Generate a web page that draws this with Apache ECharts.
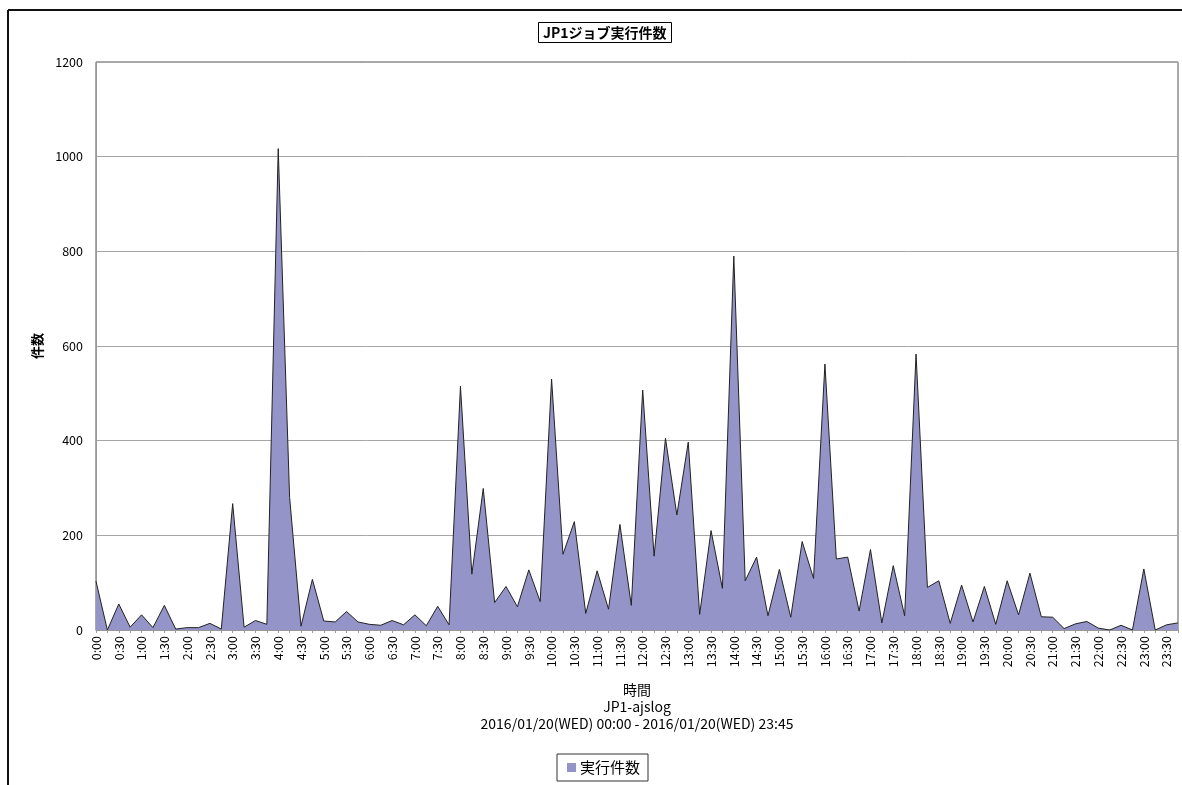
<!DOCTYPE html>
<html>
<head>
<meta charset="utf-8">
<script src="https://cdn.jsdelivr.net/npm/echarts@6/dist/echarts.min.js"></script>
<style>
html,body{margin:0;padding:0;background:#fff;}
#c{width:1182px;height:785px;}
</style>
</head>
<body>
<div id="c"></div>
<script>
// 15-minute time slots 0:00 .. 23:45
const categories = [];
for (let h = 0; h < 24; h++) {
  for (const m of ['00','15','30','45']) categories.push(h + ':' + m);
}
const seriesName = '実行件数';
const values = [
  103, 0, 55, 6, 32, 5, 52, 2, 5, 5, 14, 2, 267, 6, 20, 12,
  1017, 280, 8, 107, 19, 17, 39, 17, 12, 10, 20, 11, 32, 9, 50, 11,
  515, 118, 299, 58, 92, 49, 127, 60, 530, 160, 229, 35, 125, 44, 223, 52,
  507, 156, 405, 243, 397, 33, 210, 88, 790, 104, 154, 30, 128, 27, 187, 109,
  562, 150, 154, 40, 170, 15, 136, 30, 583, 90, 104, 14, 95, 17, 92, 12,
  104, 32, 120, 28, 27, 3, 13, 18, 4, 0, 10, 0, 129, 0, 11, 15
];
const titleText = 'JP1ジョブ実行件数';
const yName = '件数';
const xNameLines = ['時間', 'JP1-ajslog', '2016/01/20(WED) 00:00 - 2016/01/20(WED) 23:45'];

const FONT = '"Noto Sans CJK JP", "Noto Sans", sans-serif';
const chart = echarts.init(document.getElementById('c'), null, {renderer: 'canvas'});
chart.setOption({
  animation: false,
  backgroundColor: '#fff',
  textStyle: {fontFamily: FONT},
  title: {
    text: titleText,
    left: 538,
    top: 22,
    padding: [4, 5, 3, 5],
    borderColor: '#000',
    borderWidth: 1,
    textStyle: {fontSize: 14, fontWeight: 'bold', color: '#000', fontFamily: FONT}
  },
  legend: {
    data: [{name: seriesName, icon: 'rect'}],
    left: 557,
    top: 754,
    itemWidth: 9,
    itemHeight: 9,
    itemGap: 4,
    padding: [6, 8, 6, 10],
    borderColor: '#333',
    borderWidth: 1,
    textStyle: {fontSize: 15, color: '#000', fontFamily: FONT, padding: [0, 0, 0, -1]}
  },
  grid: {
    left: 96, right: 4, top: 62, bottom: 155,
    show: true,
    borderColor: '#555',
    borderWidth: 1,
    containLabel: false
  },
  xAxis: {
    type: 'category',
    data: categories,
    boundaryGap: false,
    axisLine: {lineStyle: {color: '#999'}},
    axisTick: {show: true, interval: 0, length: 3, lineStyle: {color: '#999'}},
    axisLabel: {
      interval: 1,
      rotate: 90,
      fontSize: 12.5,
      color: '#000',
      margin: 6,
      fontFamily: FONT
    },
    splitLine: {show: false}
  },
  yAxis: {
    type: 'value',
    min: 0,
    max: 1200,
    interval: 200,
    name: yName,
    nameLocation: 'middle',
    nameRotate: 90,
    nameGap: 52,
    nameTextStyle: {fontSize: 13, fontWeight: 'bold', color: '#000', fontFamily: FONT},
    axisLine: {show: true, lineStyle: {color: '#999'}},
    axisTick: {show: false},
    axisLabel: {fontSize: 12.5, color: '#000', margin: 13, fontFamily: FONT, formatter: v => String(v)},
    splitLine: {lineStyle: {color: '#a6a6a6', width: 1}}
  },
  series: [{
    name: seriesName,
    type: 'line',
    data: values,
    symbol: 'none',
    lineStyle: {color: '#222', width: 1},
    itemStyle: {color: '#9494c8'},
    areaStyle: {color: '#9494c8', opacity: 1}
  }],
  graphic: [
    {type: 'line', shape: {x1: 8, y1: 10, x2: 1182, y2: 10}, style: {stroke: '#111', lineWidth: 2}},
    {type: 'line', shape: {x1: 8, y1: 10, x2: 8, y2: 785}, style: {stroke: '#111', lineWidth: 2}},
    {type: 'text', x: 637, y: 683, style: {text: xNameLines[0], align: 'center', fill: '#000', font: '14px ' + FONT}},
    {type: 'text', x: 637, y: 700, style: {text: xNameLines[1], align: 'center', fill: '#000', font: '14px ' + FONT}},
    {type: 'text', x: 637, y: 717, style: {text: xNameLines[2], align: 'center', fill: '#000', font: '14px ' + FONT}}
  ]
});
</script>
</body>
</html>
